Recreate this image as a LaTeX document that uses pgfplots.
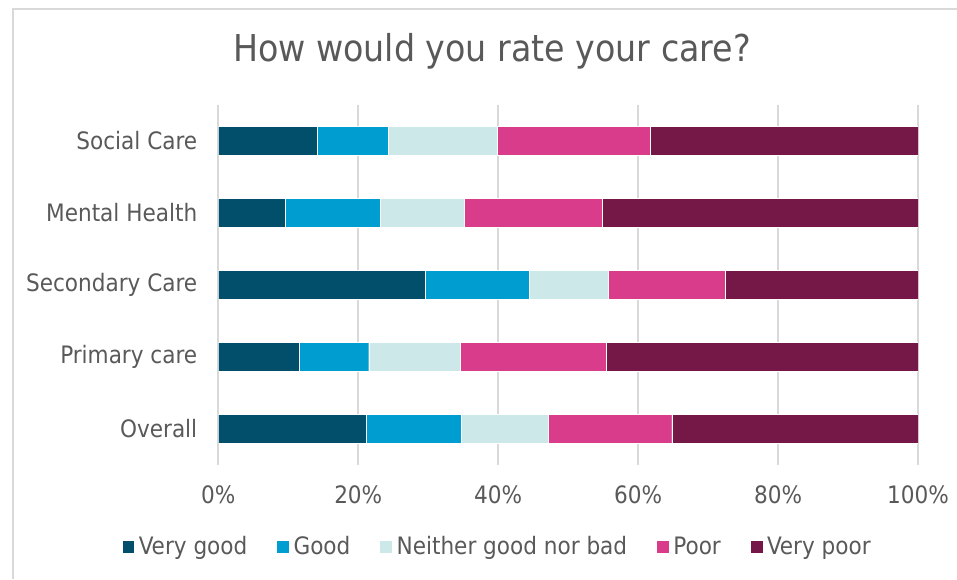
\documentclass[border=0pt]{standalone}
\usepackage{pgfplots}
\pgfplotsset{compat=1.18}
\usepackage{fontspec}
\setmainfont{DejaVu Sans Condensed}
\definecolor{vg}{HTML}{024F6B}
\definecolor{gd}{HTML}{009DD0}
\definecolor{nb}{HTML}{CCE8E8}
\definecolor{pr}{HTML}{DA3C8C}
\definecolor{vp}{HTML}{751747}
\definecolor{txt}{HTML}{595959}
\definecolor{gridgray}{HTML}{D9D9D9}
\begin{document}
\begin{tikzpicture}
\path[use as bounding box] (0pt,0pt) rectangle (478.5pt,289.5pt);
\draw[gridgray, line width=1pt] (6.5pt,0pt) -- (6.5pt,285pt) -- (478.5pt,285pt);
\node[text=txt, font=\fontsize{18.5}{22}\selectfont] at (246pt,264pt) {How would you rate your care?};
\begin{axis}[
  at={(109.15pt,57pt)}, anchor=south west,
  scale only axis, width=349.85pt, height=180pt,
  xbar stacked, bar width=14.5pt,
  xmin=0, xmax=100, ymin=-0.5, ymax=4.5,
  ytick={0,1,2,3,4},
  yticklabels={Overall,Primary care,Secondary Care,Mental Health,Social Care},
  xtick={0,20,40,60,80,100},
  xticklabels={0\%,20\%,40\%,60\%,80\%,100\%},
  xmajorgrids, major grid style={gridgray, line width=1pt},
  axis line style={draw=none},
  major tick length=0pt,
  tick label style={text=txt, font=\fontsize{12}{14}\selectfont},
  yticklabel style={xshift=-7pt},
  xticklabel style={yshift=-7pt},
  legend style={draw=none, fill=none, legend columns=5,
    font=\fontsize{12}{14}\selectfont, text=txt,
    at={(0.4,-0.228)}, anchor=center,
    /tikz/every even column/.append style={column sep=12.5pt}},
  legend image code/.code={\fill[#1] (0pt,-3.2pt) rectangle (6.4pt,3.2pt);},
]
\addplot[fill=vg, draw=white, line width=0.2pt] coordinates {(21.1,0) (11.6,1) (29.6,2) (9.6,3) (14.1,4)};
\addplot[fill=gd, draw=white, line width=0.2pt] coordinates {(13.6,0) (9.9,1) (14.8,2) (13.5,3) (10.2,4)};
\addplot[fill=nb, draw=white, line width=0.2pt] coordinates {(12.4,0) (13.1,1) (11.3,2) (12.0,3) (15.5,4)};
\addplot[fill=pr, draw=white, line width=0.2pt] coordinates {(17.7,0) (20.9,1) (16.7,2) (19.8,3) (21.9,4)};
\addplot[fill=vp, draw=white, line width=0.2pt] coordinates {(35.2,0) (44.5,1) (27.6,2) (45.1,3) (38.3,4)};
\legend{Very good,Good,Neither good nor bad,Poor,Very poor}
\end{axis}
\end{tikzpicture}
\end{document}
